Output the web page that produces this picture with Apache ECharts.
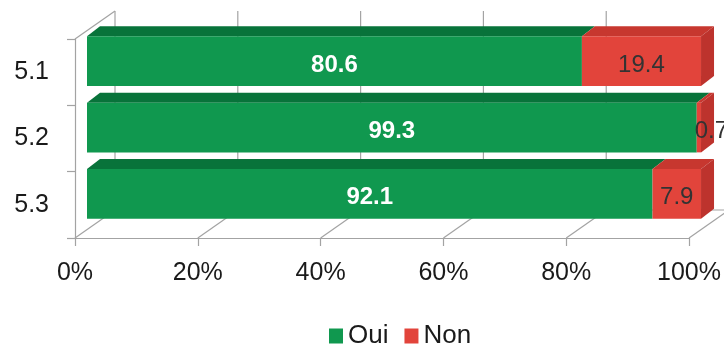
<!DOCTYPE html>
<html>
<head>
<meta charset="utf-8">
<script src="https://cdn.jsdelivr.net/npm/echarts@6/dist/echarts.min.js"></script>
<style>
  html, body { margin: 0; padding: 0; background: #ffffff; }
  #chart { width: 724px; height: 348px; }
</style>
</head>
<body>
<div id="chart"></div>
<script>
// Categories (top to bottom) and the stacked percentages per answer
const categories = ['5.1', '5.2', '5.3'];
const ouiValues = [80.6, 99.3, 92.1];
const nonValues = [19.4, 0.7, 7.9];
const xTicks = [0, 20, 40, 60, 80, 100];

// Pseudo-3D styling
const WALL_DX = 40, WALL_DY = -28;   // depth of the back wall / floor
const BAR_OX = 12, BAR_OY = -11;     // bars sit a little behind the front plane
const BAR_DX = 13, BAR_DY = -10;     // thickness of each bar
const BAR_RATIO = 0.75;
const FONT = '"Liberation Sans", Arial, sans-serif';
const GRID_COLOR = '#a3a3a3';

const COLORS = {
  oui: { front: '#10984f', top: '#08733a', side: '#086c37' },
  non: { front: '#e2443b', top: '#c7372f', side: '#bd332d' }
};

function segments(startVals, vals) {
  return vals.map((v, i) => {
    const s = startVals ? startVals[i] : 0;
    return [s, s + v, i, v];
  });
}

function makeBarRenderer(palette, labelStyle, drawSide) {
  return function (params, api) {
    const start = api.coord([api.value(0), api.value(2)]);
    const end = api.coord([api.value(1), api.value(2)]);
    const band = api.size([0, 1])[1];
    const h = band * BAR_RATIO;
    const x0 = start[0] + BAR_OX;
    const x1 = end[0] + BAR_OX;
    const yTop = start[1] + BAR_OY - h / 2;
    const yBot = yTop + h;
    const children = [
      {
        type: 'polygon',
        shape: { points: [[x0, yTop], [x1, yTop], [x1 + BAR_DX, yTop + BAR_DY], [x0 + BAR_DX, yTop + BAR_DY]] },
        style: { fill: palette.top }
      },
      {
        type: 'rect',
        shape: { x: x0, y: yTop, width: Math.max(x1 - x0, 0.5), height: h },
        style: { fill: palette.front }
      }
    ];
    if (drawSide) {
      children.push({
        type: 'polygon',
        shape: { points: [[x1, yTop], [x1 + BAR_DX, yTop + BAR_DY], [x1 + BAR_DX, yBot + BAR_DY], [x1, yBot]] },
        style: { fill: palette.side }
      });
    }
    const txt = String(api.value(3));
    const fits = (x1 - x0) > 45;
    children.push({
      type: 'text',
      style: {
        text: txt,
        x: fits ? (x0 + x1) / 2 : x0 - 2,
        y: (yTop + yBot) / 2 + 4,
        align: fits ? 'center' : 'left',
        verticalAlign: 'middle',
        fill: labelStyle.color,
        fontSize: 24,
        fontWeight: labelStyle.weight,
        fontFamily: FONT
      }
    });
    return { type: 'group', children: children };
  };
}

// Back wall, floor and left wall lines of the 3D frame
function renderFrame(params, api) {
  const cs = params.coordSys;
  const left = cs.x, top = cs.y, bottom = cs.y + cs.height;
  const right = cs.x + cs.width;
  const lineStyle = { stroke: GRID_COLOR, lineWidth: 1.2 };
  const children = [];
  xTicks.forEach(v => {
    const x = api.coord([v, 0])[0];
    children.push({ type: 'line', shape: { x1: x + WALL_DX, y1: top + WALL_DY, x2: x + WALL_DX, y2: bottom + WALL_DY }, style: lineStyle });
    children.push({ type: 'line', shape: { x1: x, y1: bottom, x2: x + WALL_DX, y2: bottom + WALL_DY }, style: lineStyle });
  });
  children.push({ type: 'line', shape: { x1: left + WALL_DX, y1: bottom + WALL_DY, x2: right + WALL_DX, y2: bottom + WALL_DY }, style: lineStyle });
  children.push({ type: 'line', shape: { x1: left, y1: top, x2: left + WALL_DX, y2: top + WALL_DY }, style: lineStyle });
  return { type: 'group', children: children };
}

const chart = echarts.init(document.getElementById('chart'), null, { renderer: 'canvas' });

chart.setOption({
  animation: false,
  backgroundColor: '#ffffff',
  grid: { left: 75, right: 34, top: 39, bottom: 110 },
  legend: {
    data: ['Oui', 'Non'],
    top: 318,
    left: 324,
    icon: 'rect',
    itemWidth: 14,
    itemHeight: 15,
    itemGap: 16,
    textStyle: { fontSize: 26, color: '#1a1a1a', fontFamily: FONT }
  },
  xAxis: {
    type: 'value',
    min: 0,
    max: 100,
    interval: 20,
    axisLine: { show: true, lineStyle: { color: GRID_COLOR, width: 1.2 } },
    axisTick: { show: true, length: 8, lineStyle: { color: GRID_COLOR, width: 1.2 } },
    splitLine: { show: false },
    axisLabel: { formatter: '{value}%', fontSize: 25, color: '#1a1a1a', margin: 23, fontFamily: FONT }
  },
  yAxis: {
    type: 'category',
    inverse: true,
    data: categories,
    axisLine: { show: true, lineStyle: { color: GRID_COLOR, width: 1.2 } },
    axisTick: { show: true, length: 8, lineStyle: { color: GRID_COLOR, width: 1.2 } },
    axisLabel: { fontSize: 25, color: '#1a1a1a', margin: 26, fontFamily: FONT }
  },
  series: [
    {
      type: 'custom',
      name: 'frame',
      silent: true,
      clip: false,
      z: 1,
      renderItem: renderFrame,
      data: [[0, 0]]
    },
    {
      type: 'custom',
      name: 'Oui',
      clip: false,
      z: 2,
      itemStyle: { color: COLORS.oui.front },
      encode: { x: [0, 1], y: 2 },
      renderItem: makeBarRenderer(COLORS.oui, { color: '#ffffff', weight: 'bold' }, false),
      data: segments(null, ouiValues)
    },
    {
      type: 'custom',
      name: 'Non',
      clip: false,
      z: 3,
      itemStyle: { color: COLORS.non.front },
      encode: { x: [0, 1], y: 2 },
      renderItem: makeBarRenderer(COLORS.non, { color: '#333333', weight: 'normal' }, true),
      data: segments(ouiValues, nonValues)
    }
  ]
});
</script>
</body>
</html>
